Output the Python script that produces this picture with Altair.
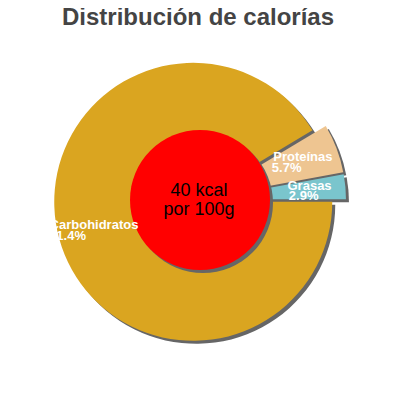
import math
import altair as alt
import pandas as pd

# ---- data ----
names = ["Carbohidratos", "Proteínas", "Grasas"]
percents = [91.4, 5.7, 2.9]
pct_labels = ["91.4%", "5.7%", "2.9%"]
colors = ["#DAA520", "#EEC591", "#7AC5CD"]
center_lines = ["40 kcal", "por 100g"]
title_text = "Distribución de calorías"

df = pd.DataFrame({
    "name": names,
    "pct": percents,
    "pct_label": pct_labels,
    "color": colors,
    "order": list(range(len(names))),
})

# ---- layout (chart pixel coords; page margin 8px) ----
CX, CY = 192, 192
R = 139
R_INNER = 70
EXPLODE = 7
LABEL_R = 110
SH = 3
FONT = "Liberation Sans"

base = alt.Chart(df).transform_window(
    cum="sum(pct)", sort=[alt.SortField("order")], frame=[None, 0]
).transform_calculate(
    t1="PI/2 + datum.cum/100*2*PI",
).transform_calculate(
    t0="datum.t1 - datum.pct/100*2*PI",
).transform_calculate(
    mid="(datum.t0 + datum.t1)/2",
).transform_calculate(
    cx=f"{CX} + {EXPLODE}*sin(datum.mid)",
    cy=f"{CY} - {EXPLODE}*cos(datum.mid)",
    lx=f"{CX} + {LABEL_R}*sin(datum.mid)",
    ly=f"{CY} - {LABEL_R}*cos(datum.mid)",
).transform_calculate(
    sx=f"datum.cx + {SH}",
    sy=f"datum.cy + {SH}",
    px="datum.lx - length(datum.name)*3.45",
    ly2="datum.ly + 10.5",
)

theta = alt.Theta("t0:Q", scale=None, stack=None)
theta2 = alt.Theta2("t1:Q")

shadows = base.mark_arc(radius=R, color="#666666").encode(
    theta=theta, theta2=theta2,
    x=alt.X("sx:Q", scale=None, axis=None),
    y=alt.Y("sy:Q", scale=None, axis=None),
)

slices = base.mark_arc(radius=R).encode(
    theta=theta, theta2=theta2,
    x=alt.X("cx:Q", scale=None, axis=None),
    y=alt.Y("cy:Q", scale=None, axis=None),
    color=alt.Color("color:N", scale=None, legend=None),
)

one = pd.DataFrame({"k": [0]})

inner_shadow = alt.Chart(one).mark_arc(
    radius=R_INNER, theta=0, theta2=2 * math.pi, color="#666666"
).encode(x=alt.value(CX + SH), y=alt.value(CY + SH))

inner = alt.Chart(one).mark_arc(
    radius=R_INNER, theta=0, theta2=2 * math.pi, color="#FF0000"
).encode(x=alt.value(CX), y=alt.value(CY))

center_text = alt.Chart(one).mark_text(
    text=center_lines, font=FONT, fontSize=18, lineHeight=19,
    align="center", baseline="alphabetic", color="black",
).encode(x=alt.value(CX - 1), y=alt.value(188))

name_labels = base.mark_text(
    font=FONT, fontSize=13, fontWeight="bold", color="white",
    align="center", baseline="alphabetic",
).encode(
    x=alt.X("lx:Q", scale=None, axis=None),
    y=alt.Y("ly:Q", scale=None, axis=None),
    text="name:N",
)

pct_text = base.mark_text(
    font=FONT, fontSize=13, fontWeight="bold", color="white",
    align="left", baseline="alphabetic",
).encode(
    x=alt.X("px:Q", scale=None, axis=None),
    y=alt.Y("ly2:Q", scale=None, axis=None),
    text="pct_label:N",
)

title = alt.Chart(one).mark_text(
    text=title_text, font=FONT, fontSize=24, fontWeight="bold",
    color="#444444", align="center", baseline="alphabetic",
).encode(x=alt.value(190), y=alt.value(16.5))

chart = alt.layer(
    shadows, slices, inner_shadow, inner, center_text, name_labels, pct_text, title
).properties(
    width=384, height=384, autosize="none", padding=0
).configure_view(stroke=None)

chart.save("out.html", embed_options={"renderer": "svg", "actions": False})
